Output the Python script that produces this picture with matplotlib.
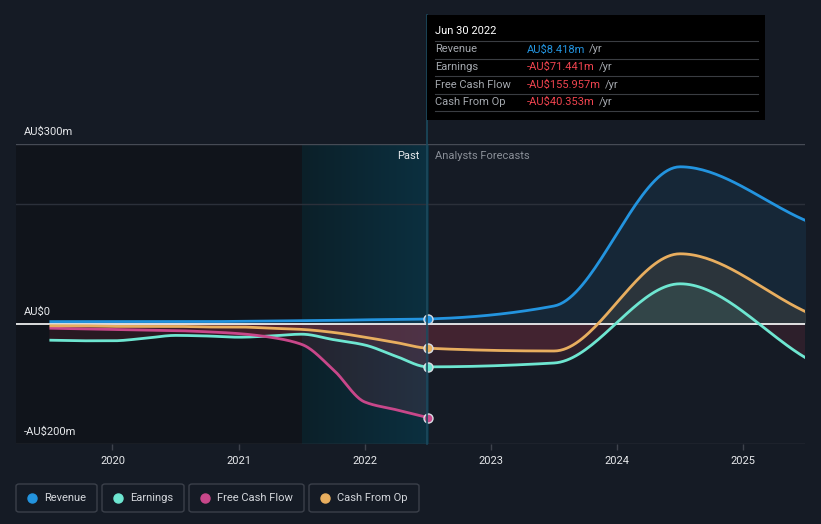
import numpy as np
import matplotlib
matplotlib.use("Agg")
import matplotlib.pyplot as plt
from matplotlib.patches import FancyBboxPatch, Rectangle

plt.rcParams['font.family'] = ['Roboto', 'DejaVu Sans']

# past (trailing twelve months, quarterly) and analyst forecasts (annual), AU$m
past_x = [2019.5, 2019.75, 2020.0, 2020.25, 2020.5, 2020.75, 2021.0,
          2021.25, 2021.5, 2021.75, 2022.0, 2022.25, 2022.5]
revenue_past = [4, 4, 4, 4, 4, 4, 4.5, 5, 5.5, 6, 7, 7.5, 8.418]
earnings_past = [-27, -28, -28, -24, -19, -20, -22, -20, -17, -26, -35, -54, -71.441]
fcf_past = [-7, -8, -9, -10, -11, -13, -16, -22, -34, -76, -130, -143, -155.957]
cfo_past = [-3, -3, -4, -4, -4, -5, -5, -7, -9, -14, -22, -31, -40.353]

fc_x = [2022.5, 2023.5, 2024.5, 2025.5]
revenue_fc = [8.418, 30, 262, 172]
earnings_fc = [-71.441, -65, 67, -57]
cfo_fc = [-40.353, -45, 117, 20]

years = [2020, 2021, 2022, 2023, 2024, 2025]
names = ["Revenue", "Earnings", "Free Cash Flow", "Cash From Op"]
tip_values = ["AU$8.418m", "-AU$71.441m", "-AU$155.957m", "-AU$40.353m"]

BG = "#151b25"
C_REV = "#2394df"
C_EARN = "#6ee6d1"
C_FCF = "#c8478a"
C_CFO = "#e8ae5f"
NEG = "#e0405a"


def smooth(x, y, n=40):
    # monotone cubic (Fritsch-Carlson) drawing of the line through the points
    x = np.asarray(x, float)
    y = np.asarray(y, float)
    h = np.diff(x)
    d = np.diff(y) / h
    m = np.zeros_like(y)
    m[0], m[-1] = d[0], d[-1]
    for i in range(1, len(y) - 1):
        if d[i - 1] * d[i] > 0:
            w1 = 2 * h[i] + h[i - 1]
            w2 = h[i] + 2 * h[i - 1]
            m[i] = (w1 + w2) / (w1 / d[i - 1] + w2 / d[i])
    xs, ys = [], []
    for i in range(len(x) - 1):
        t = np.linspace(0, 1, n, endpoint=(i == len(x) - 2))
        h00 = 2 * t**3 - 3 * t**2 + 1
        h10 = t**3 - 2 * t**2 + t
        h01 = -2 * t**3 + 3 * t**2
        h11 = t**3 - t**2
        xs.append(x[i] + t * h[i])
        ys.append(h00 * y[i] + h10 * h[i] * m[i] + h01 * y[i + 1] + h11 * h[i] * m[i + 1])
    return np.concatenate(xs), np.concatenate(ys)


W, H = 821, 524
fig = plt.figure(figsize=(W / 100, H / 100), dpi=100, facecolor=BG)


def fx(px):
    return px / W


def fy(py):
    return 1 - py / H


x0, x1 = 2019.235, 2025.49
ax = fig.add_axes([fx(16), fy(444), fx(805) - fx(16), (444 - 144) / H])
ax.set_facecolor(BG)
ax.set_xlim(x0, x1)
ax.set_ylim(-200, 300)
for s in ax.spines.values():
    s.set_visible(False)

# past shading and highlighted last year
ax.axvspan(x0, 2021.5, color="#10141b", zorder=0)
grad = np.linspace(0, 1, 256).reshape(1, -1)
cmap = matplotlib.colors.LinearSegmentedColormap.from_list("hl", ["#0c2029", "#0b3040"])
ax.imshow(grad, extent=[2021.5, 2022.5, -200, 300], aspect="auto", cmap=cmap, zorder=0.5)

ax.axhline(300, color="#464b55", lw=1, zorder=1)
ax.axhline(200, color="#2b303a", lw=1, zorder=1)
ax.axhline(-200, color="#3e434d", lw=1, zorder=1)

series = [
    (revenue_past + revenue_fc[1:], C_REV),
    (earnings_past + earnings_fc[1:], C_EARN),
    (fcf_past, C_FCF),
    (cfo_past + cfo_fc[1:], C_CFO),
]
for vals, col in series:
    xv = (past_x + fc_x[1:])[:len(vals)]
    xs, ys = smooth(xv, vals)
    ax.fill_between(xs, ys, 0, where=ys >= 0, color=col, alpha=0.1, lw=0, zorder=2, interpolate=True)
    ax.fill_between(xs, ys, 0, where=ys <= 0, color=NEG, alpha=0.12, lw=0, zorder=2, interpolate=True)

ax.axhline(0, color="#ffffff", lw=1.2, zorder=3)

for vals, col in series:
    xv = (past_x + fc_x[1:])[:len(vals)]
    xs, ys = smooth(xv, vals)
    ax.plot(xs, ys, color=col, lw=2, zorder=4, solid_capstyle="butt")
    ax.scatter([2022.5], [vals[len(past_x) - 1]], s=42, color=col, edgecolor="#d8dde4",
               linewidth=1, zorder=5)

ax.set_yticks([])
ax.set_xticks(years)
ax.set_xticklabels([str(y) for y in years])
ax.tick_params(axis="x", colors="#3e434d", length=4, width=1, labelcolor="#e6e8eb",
               labelsize=8, pad=5)

# y labels
for txt, py in [("AU$300m", 132), ("AU$0", 312), ("-AU$200m", 432)]:
    fig.text(fx(24), fy(py), txt, color="#e6e8eb", fontsize=8, va="center", ha="left")

# divider between past and forecasts
fig.add_artist(plt.Line2D([fx(427), fx(427)], [fy(15), fy(444)], color="#1b4a5e", lw=1.2))
fig.text(fx(419), fy(156), "Past", color="#e6e8eb", fontsize=8, ha="right", va="center")
fig.text(fx(435), fy(156), "Analysts Forecasts", color="#8a8f98", fontsize=8, ha="left", va="center")

# tooltip
fig.add_artist(Rectangle((fx(427), fy(120)), fx(765) - fx(427), fy(15) - fy(120),
                         facecolor="#000000", edgecolor="none", zorder=10))
fig.text(fx(435), fy(31), "Jun 30 2022", color="#ffffff", fontsize=8, va="center", zorder=11)
tip_cols = [C_REV, "#f0444f", "#f0444f", "#f0444f"]
for i, (nm, val, c) in enumerate(zip(names, tip_values, tip_cols)):
    ysep = 41 + i * 17.5
    fig.add_artist(plt.Line2D([fx(435), fx(758)], [fy(ysep), fy(ysep)], color="#3a3d42",
                              lw=0.8, zorder=11))
    yc = ysep + 8.5
    fig.text(fx(435), fy(yc), nm, color="#a4a8ae", fontsize=8, va="center", zorder=11)
    t = fig.text(fx(527), fy(yc), val, color=c, fontsize=8, va="center", zorder=11)
    fig.canvas.draw()
    bb = t.get_window_extent()
    fig.text(bb.x1 / W + fx(4), fy(yc), "/yr", color="#a4a8ae", fontsize=8, va="center", zorder=11)
fig.add_artist(plt.Line2D([fx(435), fx(758)], [fy(111), fy(111)], color="#3a3d42", lw=0.8, zorder=11))

# legend buttons
leg_cols = [C_REV, C_EARN, C_FCF, C_CFO]
boxes = [(16, 97), (102, 184), (189, 304), (309, 419)]
for (l, r), nm, col in zip(boxes, names, leg_cols):
    fig.add_artist(FancyBboxPatch((fx(l), fy(512)), fx(r) - fx(l), fy(484) - fy(512),
                                  boxstyle="round,pad=0,rounding_size=0.004",
                                  facecolor="none", edgecolor="#3b404a", lw=1))
    fig.add_artist(plt.Line2D([fx(l + 16)], [fy(498)], marker="o", ms=6.5, color=col, lw=0))
    fig.text(fx(l + 28), fy(498), nm, color="#d4d7dc", fontsize=8, va="center")

fig.savefig("out.png", dpi=100, facecolor=BG)
